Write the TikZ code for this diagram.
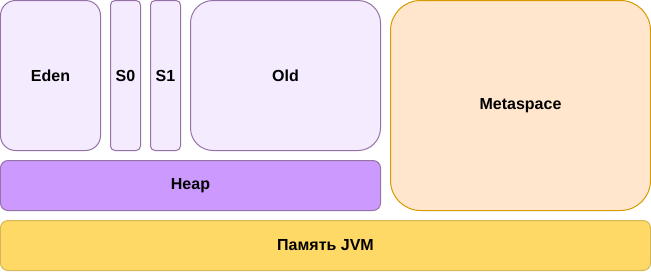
\documentclass[tikz,border=0pt]{standalone}
\usepackage{fontspec}
\setmainfont{Liberation Sans}
\usetikzlibrary{positioning}

\definecolor{genfill}{HTML}{F5EBFF}
\definecolor{genline}{HTML}{9673A6}
\definecolor{heapfill}{HTML}{CC99FF}
\definecolor{metafill}{HTML}{FFE6CC}
\definecolor{metaline}{HTML}{D79B00}
\definecolor{jvmfill}{HTML}{FFD966}
\definecolor{jvmline}{HTML}{D6B656}

\begin{document}
\begin{tikzpicture}[x=1bp,y=-1bp,node distance=10bp,
                    every node/.style=   {outer sep=0pt,inner sep=0pt,line width=1bp,
                                          font=\fontsize{16bp}{19bp}\selectfont\bfseries},
                    region/.style=       {draw=genline,fill=genfill,minimum height=150bp},
                    heap box/.style=     {draw=genline,fill=heapfill,rounded corners=7.5bp,
                                          minimum width=380bp,minimum height=50bp,anchor=north west},
                    meta box/.style=     {draw=metaline,fill=metafill,rounded corners=30bp,
                                          minimum width=260bp,minimum height=210bp,anchor=north west},
                    jvm box/.style=      {draw=jvmline,fill=jvmfill,rounded corners=7.5bp,
                                          minimum width=650bp,minimum height=50bp,anchor=north west}]
      \useasboundingbox (0,0) rectangle (651,271);
      % young and old generations
      \node[region, rounded corners=15bp, minimum width=100bp, anchor=north west] (eden) at (0.5,0.5) {Eden};
      \node[region, rounded corners=4.5bp, minimum width=30bp, right=of eden] (s0) {S0};
      \node[region, rounded corners=4.5bp, minimum width=30bp, right=of s0] (s1) {S1};
      \node[region, rounded corners=22.5bp, minimum width=190bp, right=of s1] (old) {Old};
      % heap and metaspace
      \node[heap box] (heap) at ([yshift=-10bp]eden.south west) {Heap};
      \node[meta box] (meta) at ([xshift=10bp]old.north east) {Metaspace};
      % whole jvm memory
      \node[jvm box] (jvm) at ([yshift=-10bp]heap.south west) {Память JVM};
\end{tikzpicture}
\end{document}
